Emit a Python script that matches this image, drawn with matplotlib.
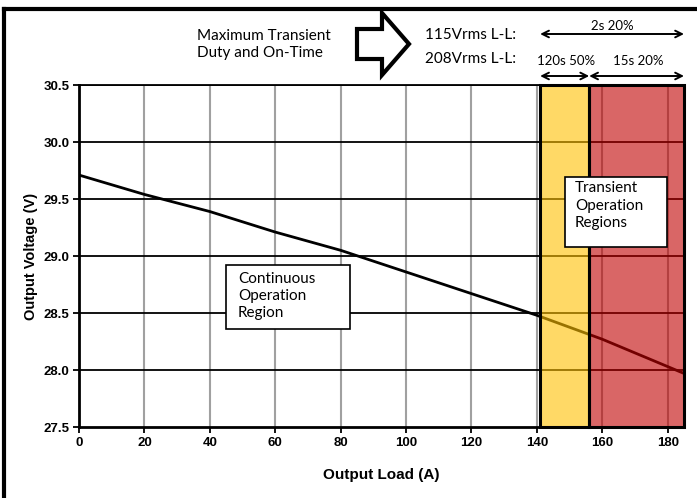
import matplotlib
matplotlib.use("Agg")
import matplotlib.pyplot as plt
from matplotlib.patches import Rectangle, Polygon
from matplotlib.lines import Line2D

# data
load_a = [0, 20, 40, 60, 80, 100, 120, 140, 160, 185]
voltage_v = [29.71, 29.54, 29.39, 29.21, 29.05, 28.86, 28.67, 28.48, 28.27, 27.97]

x_ticks = [0, 20, 40, 60, 80, 100, 120, 140, 160, 180]
y_ticks = [27.5, 28.0, 28.5, 29.0, 29.5, 30.0, 30.5]

yellow_span = (141, 156)   # 120s 50%
red_span = (156, 185)      # 15s 20%

W, H = 697, 498


def fx(px):
    return px / W


def fy(py):
    return 1 - py / H


fig = plt.figure(figsize=(W / 100, H / 100), dpi=100)
ax = fig.add_axes([fx(79), fy(427), fx(684) - fx(79), fy(85) - fy(427)])

ax.set_xlim(0, 185)
ax.set_ylim(27.5, 30.5)

# grid: gray verticals, black horizontals
for x in x_ticks[1:]:
    ax.axvline(x, color='#A0A0A0', lw=1.5, zorder=1)
for y in y_ticks[1:]:
    ax.axhline(y, color='black', lw=1.3, zorder=1)

ax.plot(load_a, voltage_v, color='black', lw=2.0, zorder=2, solid_capstyle='butt')

# transient regions, semi-transparent over grid and curve
for (x0, x1), c in [(yellow_span, '#FFC000'), (red_span, '#C00000')]:
    ax.add_patch(Rectangle((x0, 27.5), x1 - x0, 3.0, facecolor=c, alpha=0.6,
                           edgecolor='none', zorder=3))
    ax.add_patch(Rectangle((x0, 27.5), x1 - x0, 3.0, facecolor='none',
                           edgecolor='black', lw=2.2, zorder=4, clip_on=False))

ax.set_xticks(x_ticks)
ax.set_yticks(y_ticks)
ax.set_yticklabels([f"{v:.1f}" for v in y_ticks])
ax.tick_params(direction='out', length=4, width=1.3, labelsize=9.5, pad=3)
for lab in ax.get_xticklabels() + ax.get_yticklabels():
    lab.set_fontweight('bold')
    lab.set_fontfamily('Liberation Sans')

for s in ['left', 'bottom']:
    ax.spines[s].set_linewidth(2.0)
ax.spines['top'].set_linewidth(1.3)
ax.spines['right'].set_visible(False)

ax.set_xlabel('Output Load (A)', fontsize=11, fontweight='bold',
              family='Liberation Sans', labelpad=14)
ax.set_ylabel('Output Voltage (V)', fontsize=10.5, fontweight='bold',
              family='Liberation Sans', labelpad=4)

# text boxes
box_font = dict(family='Lato', fontsize=11, va='center', ha='left', zorder=6)
ax.add_patch(Rectangle((44.9, 28.36), 37.9, 0.56, facecolor='white',
                       edgecolor='black', lw=1.2, zorder=5))
for t, y in zip(['Continuous', 'Operation', 'Region'], [28.80, 28.65, 28.50]):
    ax.text(48.6, y, t, **box_font)

ax.add_patch(Rectangle((148.5, 29.08), 31.2, 0.61, facecolor='white',
                       edgecolor='black', lw=1.2, zorder=5))
for t, y in zip(['Transient', 'Operation', 'Regions'], [29.60, 29.44, 29.29]):
    ax.text(151.6, y, t, **box_font)

# header
head_font = dict(family='Lato', fontsize=11, va='center')
fig.text(fx(197), fy(36), 'Maximum Transient', ha='left', **head_font)
fig.text(fx(197), fy(53), 'Duty and On-Time', ha='left', **head_font)
fig.text(fx(425), fy(35), '115Vrms L-L:', ha='left', **head_font)
fig.text(fx(425), fy(59), '208Vrms L-L:', ha='left', **head_font)

arrow_pts = [(357, 29), (382, 29), (382, 13), (409, 44), (382, 75), (382, 59), (357, 59)]
fig.add_artist(Polygon([(fx(px), fy(py)) for px, py in arrow_pts], closed=True,
                       facecolor='white', edgecolor='black', lw=3.0,
                       transform=fig.transFigure, joinstyle='miter'))

arr = dict(arrowstyle='<->', color='black', lw=1.4, mutation_scale=12,
           shrinkA=0, shrinkB=0)
coords = ('data', 'figure fraction')
ax.annotate('', xy=(red_span[1], fy(34)), xytext=(yellow_span[0], fy(34)),
            xycoords=coords, textcoords=coords, arrowprops=arr, annotation_clip=False)
ax.annotate('', xy=(yellow_span[1], fy(76)), xytext=(yellow_span[0], fy(76)),
            xycoords=coords, textcoords=coords, arrowprops=arr, annotation_clip=False)
ax.annotate('', xy=(red_span[1], fy(76)), xytext=(red_span[0], fy(76)),
            xycoords=coords, textcoords=coords, arrowprops=arr, annotation_clip=False)
small_font = dict(family='Lato', fontsize=9.5, va='center', ha='center')
ax.annotate('2s 20%', xy=(163, fy(26)), xycoords=coords, annotation_clip=False, **small_font)
ax.annotate('120s 50%', xy=(149, fy(61)), xycoords=coords, annotation_clip=False, **small_font)
ax.annotate('15s 20%', xy=(171, fy(61)), xycoords=coords, annotation_clip=False, **small_font)

# outer frame (left and top edges)
fig.add_artist(Line2D([fx(4), fx(4)], [0, fy(9)], color='black', lw=3.0,
                      transform=fig.transFigure, solid_capstyle='projecting'))
fig.add_artist(Line2D([fx(4), 1], [fy(9), fy(9)], color='black', lw=3.0,
                      transform=fig.transFigure, solid_capstyle='projecting'))

fig.savefig('out.png', dpi=100)
